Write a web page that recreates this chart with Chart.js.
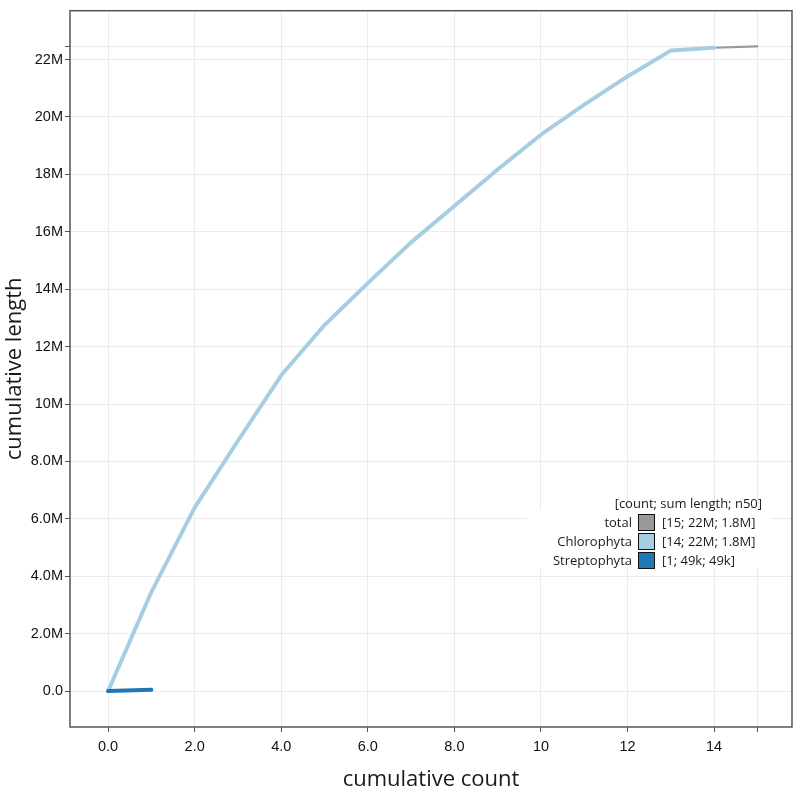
<!DOCTYPE html>
<html>
<head>
<meta charset="utf-8">
<script src="https://cdn.jsdelivr.net/npm/chart.js@4/dist/chart.umd.min.js"></script>
<style>
  html, body { margin: 0; padding: 0; background: #fff; }
  #wrap { position: relative; width: 800px; height: 800px; }
  #legend { position: absolute; left: 527px; top: 494px; width: 243px; height: 76px;
    font-family: "Open Sans", sans-serif; font-size: 13px; color: #1a1a1a; }
  #legend .ttl { position: absolute; right: 8px; top: 0px; white-space: nowrap; }
  #legend .bg { position: absolute; left: 0; top: 16px; width: 243px; height: 58px; background: #fff; }
  #legend .row { position: absolute; left: 0; width: 243px; height: 19px; }
  #legend .lab { position: absolute; right: 138px; top: 0; white-space: nowrap; }
  #legend .sw { position: absolute; left: 111px; top: 1px; width: 15px; height: 15px; border: 1.5px solid #111; }
  #legend .val { position: absolute; left: 135px; top: 0; white-space: nowrap; }
</style>
</head>
<body>
<div id="wrap">
  <canvas id="c" width="800" height="800"></canvas>
  <div id="legend"></div>
</div>
<script>
// ---- data ----
const seriesNames = ["total", "Chlorophyta", "Streptophyta"];
const seriesStats = ["[15; 22M; 1.8M]", "[14; 22M; 1.8M]", "[1; 49k; 49k]"];
const seriesColors = ["#999999", "#a6cee3", "#1f78b4"];
const legendTitle = "[count; sum length; n50]";

const totalCounts = [0, 1, 2, 3, 4, 5, 6, 7, 8, 9, 10, 11, 12, 13, 14, 15];
const totalLengths = [0, 3.45e6, 6.39e6, 8.72e6, 11.0e6, 12.75e6, 14.21e6, 15.63e6, 16.9e6, 18.17e6, 19.38e6, 20.43e6, 21.41e6, 22.31e6, 22.41e6, 22.46e6];
const chloroCounts = [0, 1, 2, 3, 4, 5, 6, 7, 8, 9, 10, 11, 12, 13, 14];
const chloroLengths = [0, 3.45e6, 6.39e6, 8.72e6, 11.0e6, 12.75e6, 14.21e6, 15.63e6, 16.9e6, 18.17e6, 19.38e6, 20.43e6, 21.41e6, 22.31e6, 22.41e6];
const streptoCounts = [0, 1];
const streptoLengths = [0, 49000];

const xTickValues = [0, 2, 4, 6, 8, 10, 12, 14, 15];
const xTickLabels = ["0.0", "2.0", "4.0", "6.0", "8.0", "10", "12", "14", ""];
const yTickValues = [0, 2e6, 4e6, 6e6, 8e6, 10e6, 12e6, 14e6, 16e6, 18e6, 20e6, 22e6, 22.46e6];
const yTickLabels = ["0.0", "2.0M", "4.0M", "6.0M", "8.0M", "10M", "12M", "14M", "16M", "18M", "20M", "22M", ""];

const xTitle = "cumulative count";
const yTitle = "cumulative length";

function pts(xs, ys) { return xs.map((x, i) => ({ x: x, y: ys[i] })); }

// legend (HTML)
(function () {
  const lg = document.getElementById('legend');
  let html = '<div class="bg"></div><div class="ttl">' + legendTitle + '</div>';
  seriesNames.forEach((n, i) => {
    html += '<div class="row" style="top:' + (19 + i * 19) + 'px">' +
      '<span class="lab">' + n + '</span>' +
      '<span class="sw" style="background:' + seriesColors[i] + '"></span>' +
      '<span class="val">' + seriesStats[i] + '</span></div>';
  });
  lg.innerHTML = html;
})();

const frame = {
  id: 'frame',
  afterDraw(chart) {
    const a = chart.chartArea, ctx = chart.ctx;
    ctx.save();
    ctx.strokeStyle = '#555555';
    ctx.lineWidth = 1.5;
    ctx.strokeRect(a.left, a.top, a.right - a.left, a.bottom - a.top);
    ctx.restore();
  }
};

const tickFont = { family: '"Liberation Sans", Arial, sans-serif', size: 14.5 };
const titleFont = { family: '"Open Sans", sans-serif', size: 22 };

new Chart(document.getElementById('c'), {
  type: 'line',
  data: {
    datasets: [
      { label: seriesNames[2], data: pts(streptoCounts, streptoLengths), borderColor: seriesColors[2], borderWidth: 4, pointRadius: 0, tension: 0, borderCapStyle: 'round', borderJoinStyle: 'round' },
      { label: seriesNames[1], data: pts(chloroCounts, chloroLengths), borderColor: seriesColors[1], borderWidth: 4, pointRadius: 0, tension: 0, borderCapStyle: 'round', borderJoinStyle: 'round' },
      { label: seriesNames[0], data: pts(totalCounts, totalLengths), borderColor: seriesColors[0], borderWidth: 2.2, pointRadius: 0, tension: 0, borderCapStyle: 'round', borderJoinStyle: 'round' }
    ]
  },
  options: {
    responsive: false,
    animation: false,
    devicePixelRatio: 1,
    layout: { padding: { top: 8, right: 8, left: 0, bottom: 0 } },
    plugins: { legend: { display: false }, tooltip: { enabled: false } },
    scales: {
      x: {
        type: 'linear',
        min: -0.88, max: 15.8,
        afterBuildTicks(s) { s.ticks = xTickValues.map(v => ({ value: v })); },
        afterFit(s) { s.height = 73; },
        ticks: { callback: (v) => { const i = xTickValues.indexOf(v); return i >= 0 ? xTickLabels[i] : ''; }, font: tickFont, color: '#111111', padding: 6, maxRotation: 0, autoSkip: false },
        grid: { color: '#ebebeb', lineWidth: 1, tickLength: 5, tickColor: '#555555', drawTicks: true },
        border: { display: false },
        title: { display: true, text: xTitle, font: titleFont, color: '#1a1a1a', padding: { top: 0, bottom: 7 } }
      },
      y: {
        type: 'linear',
        min: -1.25e6, max: 23.7e6,
        afterBuildTicks(s) { s.ticks = yTickValues.map(v => ({ value: v })); },
        afterFit(s) { s.width = 70; },
        ticks: { callback: (v) => { const i = yTickValues.indexOf(v); return i >= 0 ? yTickLabels[i] : ''; }, font: tickFont, color: '#111111', padding: 2, autoSkip: false },
        grid: { color: '#ebebeb', lineWidth: 1, tickLength: 5, tickColor: '#555555', drawTicks: true },
        border: { display: false },
        title: { display: true, text: yTitle, font: titleFont, color: '#1a1a1a', padding: { top: 2, bottom: 0 } }
      }
    }
  },
  plugins: [frame]
});
</script>
</body>
</html>
